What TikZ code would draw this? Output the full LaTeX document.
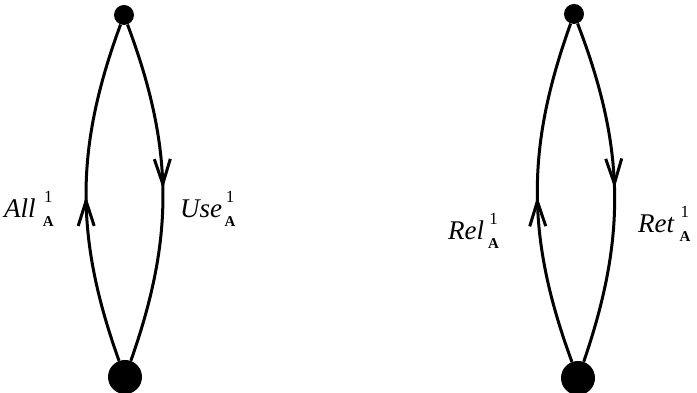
\documentclass[tikz,border=0pt]{standalone}
\usepackage{fontspec}
\setmainfont{Liberation Serif}
\usetikzlibrary{arrows.meta, decorations.markings}
\tikzstyle{vertex} = [circle, fill=black, inner sep=0pt]
\tikzstyle{smalldot} = [vertex, minimum size=20pt]
\tikzstyle{bigdot} = [vertex, minimum size=34pt]
\tikzstyle{flow} = [line width=3pt, postaction={decorate},
                    decoration={markings, mark=at position 0.49 with
                    {\arrow{Straight Barb[length=25pt, width=16pt, line width=3pt]}}}]
\tikzstyle{label} = [font=\fontsize{27}{30}\selectfont\itshape, inner sep=0pt, anchor=base west]
% stacked index: 1 over A
\newcommand{\idxA}[1][0.2em]{\hspace{#1}\makebox[0pt][l]{\makebox[0.5em][c]{\raisebox{0.58em}{\fontsize{17}{17}\selectfont\upshape 1}}}%
  \makebox[0.5em][c]{\raisebox{-0.3em}{\fontsize{15}{15}\selectfont\upshape\bfseries A}}}

\begin{document}
\begin{tikzpicture}[x=1pt, y=1pt]
                    \useasboundingbox (0, 0) rectangle (697, 393);
                    % left graph
                    \node[smalldot] (top1) at (124, 378) {};
                    \node[bigdot] (bot1) at (125, 16) {};
                    \draw[flow] (bot1) to[bend left=20] (top1);
                    \draw[flow] (top1) to[bend left=20] (bot1);
                    \node[label] (all) at (4, 175) {All\idxA[0.22em]};
                    \node[label] (use) at (180, 175) {Use\idxA[0.04em]};
                    % right graph
                    \node[smalldot] (top2) at (574, 379) {};
                    \node[bigdot] (bot2) at (578, 15) {};
                    \draw[flow] (bot2) to[bend left=20] (top2);
                    \draw[flow] (top2) to[bend left=20] (bot2);
                    \node[label] (rel) at (448, 153) {Rel\idxA[0.1em]};
                    \node[label] (ret) at (638, 160) {Ret\idxA[0.15em]};
                \end{tikzpicture}
\end{document}
